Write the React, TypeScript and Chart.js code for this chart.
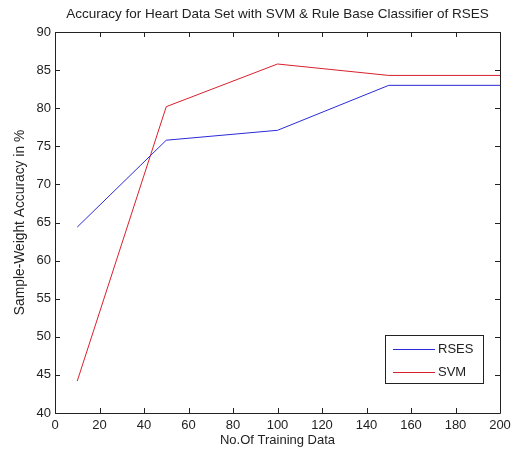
import React, { useEffect, useRef } from "react";
import { Chart, registerables } from "chart.js";

Chart.register(...registerables);

const trainingSizes = [10, 50, 100, 150, 200];
const rsesAccuracy = [64.4, 75.8, 77.1, 83.0, 83.0];
const svmAccuracy = [44.2, 80.2, 85.8, 84.3, 84.3];
const seriesNames = ["RSES", "SVM"];
const seriesColors = ["#2a2ad6", "#d8202c"];

const titleText = "Accuracy for Heart Data Set with SVM & Rule Base Classifier of RSES";
const xTitle = "No.Of Training Data";
const yTitle = "Sample-Weight Accuracy in %";

const FONT = "'Liberation Sans', Arial, sans-serif";

const matlabFrame = {
  id: "matlabFrame",
  afterDatasetsDraw(chart: any) {
    const { ctx, chartArea } = chart;
    const { left, right, top, bottom } = chartArea;
    const xs = chart.scales.x;
    const ys = chart.scales.y;
    const tl = 5;
    ctx.save();
    // title centred over the axes, MATLAB style
    ctx.fillStyle = "#222";
    ctx.font = `13.5px ${FONT}`;
    ctx.textAlign = "center";
    ctx.textBaseline = "middle";
    ctx.fillText(titleText, (left + right) / 2, 14);

    ctx.strokeStyle = "#222";
    ctx.lineWidth = 1;
    ctx.beginPath();
    ctx.rect(Math.round(left) + 0.5, Math.round(top) + 0.5, Math.round(right - left), Math.round(bottom - top));
    ctx.stroke();
    ctx.beginPath();
    xs.ticks.forEach((t: any) => {
      const px = Math.round(xs.getPixelForValue(t.value)) + 0.5;
      ctx.moveTo(px, bottom);
      ctx.lineTo(px, bottom - tl);
      ctx.moveTo(px, top);
      ctx.lineTo(px, top + tl);
    });
    ys.ticks.forEach((t: any) => {
      const py = Math.round(ys.getPixelForValue(t.value)) + 0.5;
      ctx.moveTo(left, py);
      ctx.lineTo(left + tl, py);
      ctx.moveTo(right, py);
      ctx.lineTo(right - tl, py);
    });
    ctx.stroke();

    // legend
    const bx = 385.5, by = 335.5, bw = 98, bh = 48;
    ctx.fillStyle = "#fff";
    ctx.fillRect(bx, by, bw, bh);
    ctx.strokeStyle = "#222";
    ctx.strokeRect(bx, by, bw, bh);
    ctx.font = `13px ${FONT}`;
    ctx.textBaseline = "middle";
    ctx.textAlign = "left";
    const rows = [349.5, 372.5];
    seriesNames.forEach((name, i) => {
      ctx.strokeStyle = seriesColors[i];
      ctx.beginPath();
      ctx.moveTo(393, rows[i]);
      ctx.lineTo(435, rows[i]);
      ctx.stroke();
      ctx.fillStyle = "#222";
      ctx.fillText(name, 438, rows[i]);
    });
    ctx.restore();
  },
};

export default function App() {
  const ref = useRef<HTMLCanvasElement>(null);
  useEffect(() => {
    document.body.style.margin = "0";
    const chart = new Chart(ref.current!, {
      type: "line",
      data: {
        datasets: [
          {
            label: seriesNames[0],
            data: trainingSizes.map((x, i) => ({ x, y: rsesAccuracy[i] })),
            borderColor: seriesColors[0],
            borderWidth: 1,
            pointRadius: 0,
            tension: 0,
          },
          {
            label: seriesNames[1],
            data: trainingSizes.map((x, i) => ({ x, y: svmAccuracy[i] })),
            borderColor: seriesColors[1],
            borderWidth: 1,
            pointRadius: 0,
            tension: 0,
          },
        ],
      },
      options: {
        animation: false,
        responsive: false,
        layout: { padding: { left: 0, right: 13, top: 32, bottom: 0 } },
        plugins: {
          legend: { display: false },
          tooltip: { enabled: false },
          title: { display: false },
        },
        scales: {
          x: {
            type: "linear",
            min: 0,
            max: 200,
            ticks: { stepSize: 20, color: "#222", font: { family: FONT, size: 13 }, padding: 5, maxRotation: 0 },
            grid: { display: false, drawTicks: false },
            border: { display: false },
            title: { display: true, text: xTitle, color: "#222", font: { family: FONT, size: 13 }, padding: { bottom: 6 } },
            afterFit: (s: any) => { s.height = 41; s.paddingLeft = 0; s.paddingRight = 0; },
          },
          y: {
            type: "linear",
            min: 40,
            max: 90,
            ticks: { stepSize: 5, color: "#222", font: { family: FONT, size: 13 }, padding: 4 },
            grid: { display: false, drawTicks: false },
            border: { display: false },
            title: { display: true, text: yTitle, color: "#222", font: { family: FONT, size: 13.8 }, padding: { top: 12 } },
            afterFit: (s: any) => { s.width = 55; s.paddingTop = 0; s.paddingBottom = 0; },
          },
        },
      },
      plugins: [matlabFrame],
    });
    return () => chart.destroy();
  }, []);
  return (
    <div style={{ position: "fixed", left: 0, top: 0, width: 513, height: 454, background: "#fff" }}>
      <canvas ref={ref} width={513} height={454} />
    </div>
  );
}
